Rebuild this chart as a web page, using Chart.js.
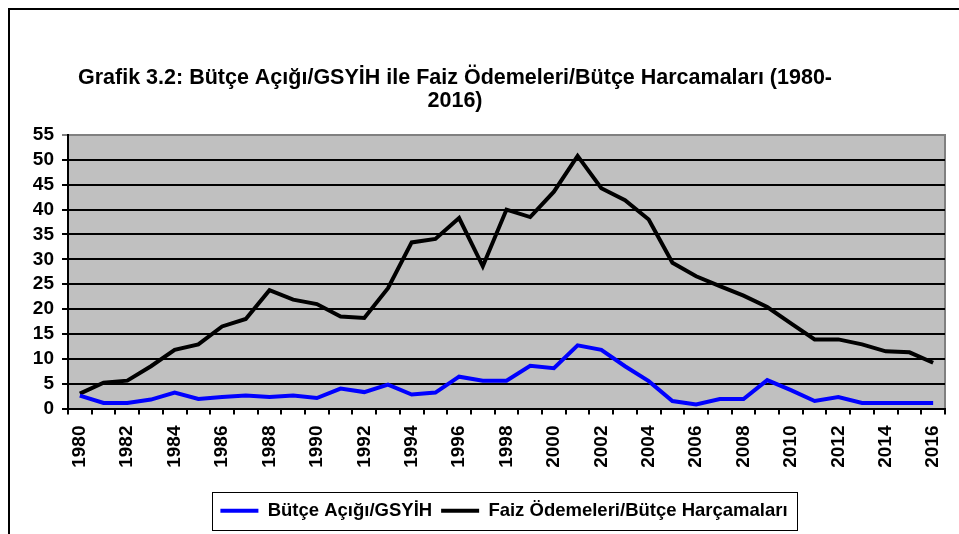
<!DOCTYPE html>
<html>
<head>
<meta charset="utf-8">
<script src="https://cdn.jsdelivr.net/npm/chart.js@4.4.1/dist/chart.umd.min.js"></script>
<style>
  html, body { margin: 0; padding: 0; background: #ffffff; }
  #wrap { width: 959px; height: 534px; position: relative; }
</style>
</head>
<body>
<div id="wrap"><canvas id="c" width="959" height="534"></canvas></div>
<script>
const years = [1980,1981,1982,1983,1984,1985,1986,1987,1988,1989,1990,1991,1992,1993,1994,1995,1996,1997,1998,1999,2000,2001,2002,2003,2004,2005,2006,2007,2008,2009,2010,2011,2012,2013,2014,2015,2016].map(String);
const butceAcigi = [2.6,1.1,1.1,1.8,3.2,1.9,2.3,2.6,2.3,2.6,2.1,4.0,3.3,4.8,2.8,3.2,6.4,5.6,5.6,8.6,8.1,12.7,11.8,8.5,5.5,1.5,0.8,1.9,1.9,5.7,3.7,1.5,2.3,1.1,1.1,1.1,1.1];
const faizOdemeleri = [3.0,5.2,5.6,8.5,11.8,12.9,16.5,18.0,23.8,21.9,21.0,18.5,18.2,24.2,33.4,34.1,38.3,28.6,40.0,38.5,43.6,50.8,44.3,41.9,38.0,29.3,26.6,24.6,22.7,20.4,17.1,13.9,13.9,12.9,11.5,11.3,9.2];
const seriesNames = ['Bütçe Açığı/GSYİH', 'Faiz Ödemeleri/Bütçe Harçamaları'];
const titleLines = ['Grafik 3.2: Bütçe Açığı/GSYİH ile Faiz Ödemeleri/Bütçe Harcamaları (1980-', '2016)'];
const yTicks = [0,5,10,15,20,25,30,35,40,45,50,55];

const FONT = "'Liberation Sans', Arial, sans-serif";

const decor = {
  id: 'decor',
  afterLayout(chart) {
    const t = chart.titleBlock;
    if (t) { t.left = 0; t.right = 910; t.width = 910; }
    const lg = chart.legend;
    if (lg) { lg.left = 63; lg.right = 945; lg.width = 882; }
  },
  beforeDraw(chart) {
    const {ctx, chartArea: a} = chart;
    ctx.save();
    ctx.fillStyle = '#ffffff';
    ctx.fillRect(0, 0, chart.width, chart.height);
    ctx.fillStyle = '#C0C0C0';
    ctx.fillRect(a.left, a.top, a.right - a.left, a.bottom - a.top);
    ctx.strokeStyle = '#808080';
    ctx.lineWidth = 2;
    ctx.beginPath();
    ctx.moveTo(a.left, a.top);
    ctx.lineTo(a.right, a.top);
    ctx.lineTo(a.right, a.bottom);
    ctx.stroke();
    ctx.strokeStyle = '#000000';
    ctx.lineWidth = 2;
    ctx.strokeRect(9, 9, 1000, 600);
    ctx.restore();
  },
  afterDraw(chart) {
    const lg = chart.legend;
    if (!lg || !lg.legendHitBoxes || !lg.legendHitBoxes.length) return;
    const hb = lg.legendHitBoxes;
    const first = hb[0], last = hb[hb.length - 1];
    const cy = first.top + first.height / 2;
    const ctx = chart.ctx;
    ctx.save();
    ctx.strokeStyle = '#000000';
    ctx.lineWidth = 1;
    ctx.strokeRect(Math.round(first.left - 8) + 0.5, Math.round(cy - 19) + 0.5,
                   Math.round(last.left + last.width + 10 - (first.left - 8)), 38);
    ctx.restore();
  }
};

new Chart(document.getElementById('c'), {
  type: 'line',
  data: {
    labels: years,
    datasets: [
      { label: seriesNames[0], data: butceAcigi, borderColor: '#0000FF', backgroundColor: '#0000FF',
        borderWidth: 4, pointRadius: 0, tension: 0, fill: false, borderCapStyle: 'butt', borderJoinStyle: 'miter' },
      { label: seriesNames[1], data: faizOdemeleri, borderColor: '#000000', backgroundColor: '#000000',
        borderWidth: 4, pointRadius: 0, tension: 0, fill: false, borderCapStyle: 'butt', borderJoinStyle: 'miter' }
    ]
  },
  options: {
    responsive: false,
    animation: false,
    devicePixelRatio: 1,
    layout: { padding: { left: 0, right: 14, top: 0, bottom: 4 } },
    scales: {
      x: {
        offset: true,
        grid: { offset: true, drawOnChartArea: false, drawTicks: true, tickLength: 6, color: '#000000', lineWidth: 2 },
        border: { display: true, color: '#000000', width: 2 },
        ticks: {
          autoSkip: false, maxRotation: 90, minRotation: 90, padding: 11,
          color: '#000000', font: { family: FONT, size: 19, weight: 'bold' },
          callback: function(v, i) { return i % 2 === 0 ? years[i] : ''; }
        },
        afterFit(scale) { scale.height = 84; scale.paddingLeft = 0; scale.paddingRight = 0; }
      },
      y: {
        min: 0, max: 55,
        afterBuildTicks(scale) { scale.ticks = yTicks.map(v => ({ value: v })); },
        grid: { drawTicks: true, tickLength: 6, lineWidth: 2,
                color: ctx => (ctx.tick && ctx.tick.value === 55) ? '#808080' : '#000000' },
        border: { display: true, color: '#000000', width: 2 },
        ticks: { autoSkip: false, padding: 8, color: '#000000', font: { family: FONT, size: 19, weight: 'bold' } },
        afterFit(scale) { scale.width = 68; scale.paddingTop = 0; scale.paddingBottom = 0; }
      }
    },
    plugins: {
      title: {
        display: true, text: titleLines, color: '#000000',
        font: { family: FONT, size: 21.5, weight: 'bold', lineHeight: 1.07 },
        padding: { top: 67, bottom: 22 }
      },
      legend: {
        position: 'bottom',
        labels: {
          usePointStyle: true, pointStyle: 'line', pointStyleWidth: 38,
          color: '#000000', font: { family: FONT, size: 18.5, weight: 'bold' }, padding: 9,
          boxHeight: 18
        }
      },
      tooltip: { enabled: false }
    }
  },
  plugins: [decor]
});
</script>
</body>
</html>
